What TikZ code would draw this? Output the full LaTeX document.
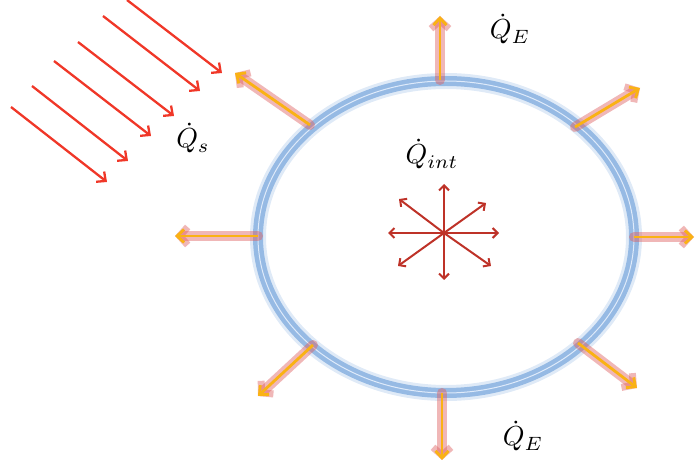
\documentclass[tikz,border=0pt]{standalone}
\usepackage{graphicx}
\usetikzlibrary{arrows.meta,shapes.geometric}
\definecolor{ringblue}{RGB}{150,186,228}
\definecolor{ringlight}{RGB}{222,234,250}
\definecolor{sunred}{RGB}{240,55,40}
\definecolor{glowred}{RGB}{222,95,95}
\definecolor{heatorange}{RGB}{250,178,20}
\definecolor{intred}{RGB}{190,50,40}
\tikzset{
  glow/.style={draw=glowred, opacity=0.45, line width=10pt, line cap=round,
    -{Straight Barb[length=8pt,width=18pt,line width=7pt]}},
  heat/.style={draw=heatorange, line width=2.8pt,
    -{Straight Barb[length=7pt,width=13pt,line width=2.8pt]}},
  sun/.style={draw=sunred, line width=2.3pt,
    -{Straight Barb[length=7pt,width=13pt,line width=2.3pt]}},
  intarr/.style={draw=intred, line width=2pt,
    -{Straight Barb[length=5pt,width=10pt,line width=2pt]}},
  lbl/.style={inner sep=0pt}
}
\newcommand{\biglbl}[1]{\scalebox{2.75}{$#1$}}
\begin{document}
\begin{tikzpicture}[x=1pt,y=-1pt]
\useasboundingbox (0,0) rectangle (697,470);
% ring
\node[draw=ringblue, line width=16pt, opacity=0.3, ellipse, minimum width=376pt, minimum height=312pt, inner sep=0pt] (ringglow) at (446,237) {};
\draw[ringblue, line width=10pt] (446,237) ellipse [x radius=188, y radius=156];
\draw[ringlight, line width=1pt] (446,237) ellipse [x radius=188, y radius=156];
% heat flux arrows
\coordinate (t0) at (440,80);  \coordinate (t1) at (440,16);
\coordinate (b0) at (442,393); \coordinate (b1) at (442,460);
\coordinate (r0) at (634,237); \coordinate (r1) at (694,237);
\coordinate (l0) at (258,236); \coordinate (l1) at (175,236);
\coordinate (ul0) at (310,125); \coordinate (ul1) at (235,73);
\coordinate (ur0) at (575,127); \coordinate (ur1) at (640,88);
\coordinate (ll0) at (313,345); \coordinate (ll1) at (258,396);
\coordinate (lr0) at (578,343); \coordinate (lr1) at (637,388);
\foreach \a in {t,b,r,l,ul,ur,ll,lr}{
  \path[glow] (\a0) -- (\a1);
}
\foreach \a in {t,b,r,l,ul,ur,ll,lr}{
  \path[heat] (\a0) -- (\a1);
}
% solar arrows
\coordinate (s1a) at (127,0);  \coordinate (s1b) at (222,73);
\coordinate (s2a) at (103,16); \coordinate (s2b) at (200,91);
\coordinate (s3a) at (78,42);  \coordinate (s3b) at (174,116);
\coordinate (s4a) at (54,61);  \coordinate (s4b) at (151,136);
\coordinate (s5a) at (32,86);  \coordinate (s5b) at (128,161);
\coordinate (s6a) at (11,107); \coordinate (s6b) at (107,182);
\foreach \i in {1,...,6}{
  \path[sun] (s\i a) -- (s\i b);
}
% internal star
\coordinate (c) at (444,233);
\foreach \p in {(444,184),(444,280),(388,233),(499,233),(399,199),(486,203),(398,266),(491,266)}{
  \path[intarr] (c) -- \p;
}
% labels
\node[lbl] (qs) at (193,138) {\biglbl{\dot{Q}_{s}}};
\node[lbl] (qint) at (432,154) {\biglbl{\dot{Q}_{int}}};
\node[lbl] (qe1) at (510,29) {\biglbl{\dot{Q}_{E}}};
\node[lbl] (qe2) at (523,436) {\biglbl{\dot{Q}_{E}}};
\end{tikzpicture}
\end{document}
